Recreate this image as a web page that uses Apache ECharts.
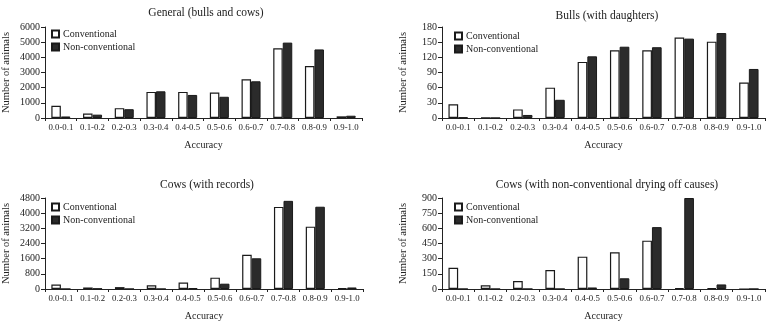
<!DOCTYPE html>
<html>
<head>
<meta charset="utf-8">
<script src="https://cdn.jsdelivr.net/npm/echarts@6/dist/echarts.min.js"></script>
<style>
  html, body { margin: 0; padding: 0; background: #fff; }
  #chart { width: 769px; height: 328px; }
</style>
</head>
<body>
<div id="chart"></div>
<script>
var categories = ["0.0-0.1","0.1-0.2","0.2-0.3","0.3-0.4","0.4-0.5","0.5-0.6","0.6-0.7","0.7-0.8","0.8-0.9","0.9-1.0"];

// General (bulls and cows)
var generalConv = [800, 300, 650, 1720, 1720, 1680, 2550, 4600, 3430, 110];
var generalNon  = [100, 220, 580, 1760, 1520, 1400, 2420, 4970, 4520, 150];
// Bulls (with daughters)
var bullsConv = [27, 1, 17, 60, 111, 134, 134, 159, 151, 70];
var bullsNon  = [1, 0, 6, 36, 122, 141, 140, 157, 168, 97];
// Cows (with records)
var recordsConv = [240, 80, 100, 200, 340, 600, 1800, 4330, 3290, 50];
var recordsNon  = [0, 20, 0, 0, 50, 280, 1620, 4650, 4340, 80];
// Cows (with non-conventional drying off causes)
var dryingConv = [210, 36, 78, 188, 320, 363, 478, 10, 10, 0];
var dryingNon  = [0, 0, 0, 0, 15, 106, 612, 900, 45, 0];

var titles = ["General (bulls and cows)", "Bulls (with daughters)", "Cows (with records)", "Cows (with non-conventional drying off causes)"];
var yMax = [6000, 180, 4800, 900];
var yStep = [1000, 30, 800, 150];

var font = "Liberation Serif";
var ink = "#222";

// panel boxes: left, right, top, height
var boxes = [
  {left: 39, right: 407, top: 27, height: 91},
  {left: 442, right: 4, top: 27, height: 91},
  {left: 39, right: 406, top: 198, height: 91},
  {left: 442, right: 4, top: 198, height: 91}
];
var titlePos = [{x: 201, y: 2}, {x: 602, y: 5}, {x: 202, y: 174}, {x: 602, y: 174}];
var legendPos = [{x: 51, y: 29}, {x: 454, y: 31}, {x: 51, y: 202}, {x: 454, y: 202}];

var conv = [generalConv, bullsConv, recordsConv, dryingConv];
var non = [generalNon, bullsNon, recordsNon, dryingNon];

var chart = echarts.init(document.getElementById("chart"), null, {renderer: "canvas"});

var grid = [], xAxis = [], yAxis = [], series = [], title = [], legend = [];
for (var i = 0; i < 4; i++) {
  grid.push({left: boxes[i].left, right: boxes[i].right, top: boxes[i].top, height: boxes[i].height, containLabel: false});
  title.push({
    text: titles[i], left: titlePos[i].x, top: titlePos[i].y, textAlign: "center",
    textStyle: {fontFamily: font, fontSize: 11.5, fontWeight: "normal", color: ink}
  });
  legend.push({
    data: ["Conventional", "Non-conventional"],
    orient: "vertical", left: legendPos[i].x, top: legendPos[i].y, padding: 0,
    itemWidth: 7, itemHeight: 7, itemGap: 3, icon: "rect",
    selectedMode: false,
    textStyle: {fontFamily: font, fontSize: 10, color: ink, padding: [0, 0, 0, -1]}
  });
  xAxis.push({
    type: "category", gridIndex: i, data: categories,
    name: "Accuracy", nameLocation: "middle", nameGap: 22,
    nameTextStyle: {fontFamily: font, fontSize: 10, color: ink},
    axisLine: {show: true, lineStyle: {color: ink, width: 1}},
    axisTick: {show: true, length: 3, lineStyle: {color: ink}},
    axisLabel: {interval: 0, fontFamily: font, fontSize: 8.8, color: ink, margin: 5},
    splitLine: {show: false}
  });
  yAxis.push({
    type: "value", gridIndex: i, min: 0, max: yMax[i], interval: yStep[i],
    name: "Number of animals", nameLocation: "middle", nameGap: 33,
    nameTextStyle: {fontFamily: font, fontSize: 10.5, color: ink},
    axisLine: {show: true, lineStyle: {color: ink, width: 1}},
    axisTick: {show: true, length: 4, lineStyle: {color: ink}},
    axisLabel: {fontFamily: font, fontSize: 10, color: ink, margin: 5, formatter: function (v) { return String(v); }},
    splitLine: {show: false}
  });
  series.push({
    name: "Conventional", type: "bar", xAxisIndex: i, yAxisIndex: i,
    data: conv[i], barGap: "0%", barCategoryGap: "40%",
    itemStyle: {color: "#ffffff", borderColor: "#1a1a1a", borderWidth: 1.2}
  });
  series.push({
    name: "Non-conventional", type: "bar", xAxisIndex: i, yAxisIndex: i,
    data: non[i], barGap: "0%", barCategoryGap: "40%",
    itemStyle: {color: "#2b2b2b", borderColor: "#1a1a1a", borderWidth: 1}
  });
}

chart.setOption({
  animation: false,
  backgroundColor: "#ffffff",
  title: title,
  legend: legend,
  grid: grid,
  xAxis: xAxis,
  yAxis: yAxis,
  series: series
});
</script>
</body>
</html>
